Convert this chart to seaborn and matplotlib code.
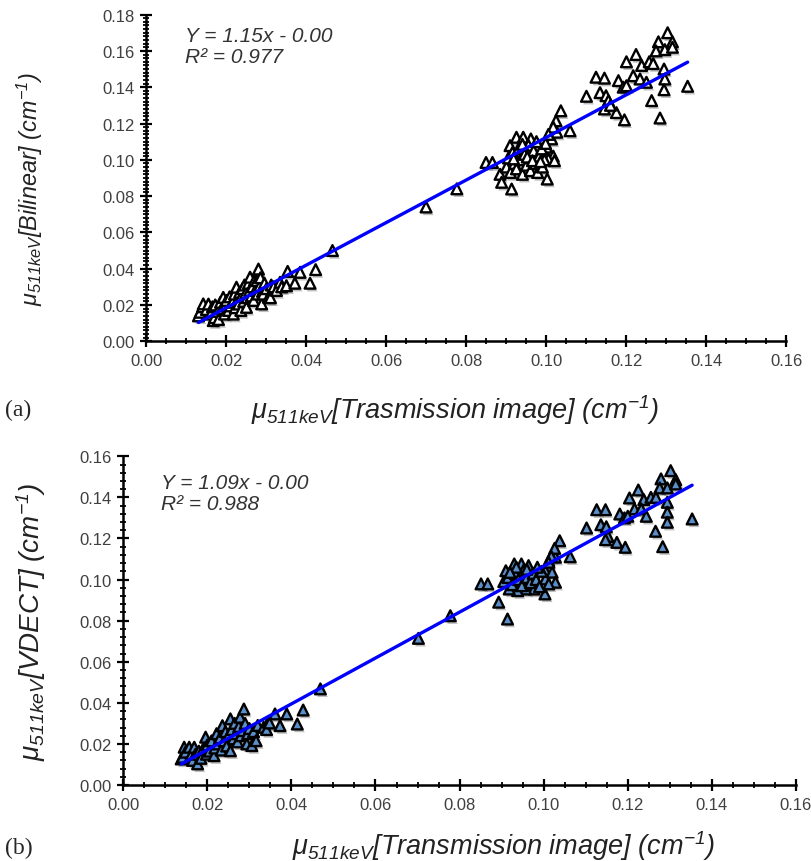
import numpy as np
import pandas as pd
import seaborn as sns
import matplotlib
matplotlib.use("Agg")
import matplotlib.pyplot as plt
from matplotlib.ticker import MultipleLocator, FormatStrFormatter
import matplotlib.patheffects as pe

# ---------------- data ----------------
# (a) Bilinear vs transmission image
x_a = [0.0130, 0.0134, 0.0140, 0.0142, 0.0150, 0.0155, 0.0160, 0.0165, 0.0167, 0.0170,
       0.0172, 0.0178, 0.0180, 0.0185, 0.0188, 0.0192, 0.0195, 0.0198, 0.0200, 0.0205,
       0.0208, 0.0210, 0.0215, 0.0217, 0.0220, 0.0222, 0.0225, 0.0228, 0.0230, 0.0233,
       0.0236, 0.0238, 0.0240, 0.0243, 0.0245, 0.0248, 0.0250, 0.0252, 0.0255, 0.0258,
       0.0259, 0.0262, 0.0265, 0.0268, 0.0270, 0.0272, 0.0276, 0.0278, 0.0280, 0.0282,
       0.0285, 0.0288, 0.0290, 0.0292, 0.0295, 0.0300, 0.0305, 0.0310, 0.0312, 0.0318,
       0.0325, 0.0334, 0.0338, 0.0350, 0.0353, 0.0371, 0.0384, 0.0409, 0.0423, 0.0465,
       0.0699, 0.0776,
       0.0849, 0.0865, 0.0884, 0.0888, 0.0909, 0.0913, 0.0925, 0.0942, 0.0961, 0.1002,
       0.1000, 0.1013, 0.1026, 0.1059, 0.1024, 0.1036, 0.1017, 0.1005, 0.1017, 0.1005,
       0.1020,
       0.0900, 0.0905, 0.0910, 0.0915, 0.0920, 0.0925, 0.0930, 0.0935, 0.0940, 0.0945,
       0.0950, 0.0955, 0.0960, 0.0962, 0.0968, 0.0972, 0.0978, 0.0982, 0.0988, 0.0990,
       0.0995, 0.0998, 0.0940, 0.0918, 0.0952, 0.0965, 0.0985, 0.0975,
       0.1303, 0.1280, 0.1315, 0.1274, 0.1296, 0.1315, 0.1224, 0.1200, 0.1238, 0.1257,
       0.1267, 0.1294, 0.1296, 0.1294, 0.1353, 0.1263, 0.1284, 0.1217, 0.1234, 0.1250,
       0.1180, 0.1192, 0.1200, 0.1124, 0.1145, 0.1100, 0.1134, 0.1149, 0.1155, 0.1145,
       0.1175, 0.1195, 0.1160]
y_a = [0.0140, 0.0160, 0.0190, 0.0206, 0.0175, 0.0205, 0.0150, 0.0190, 0.0114, 0.0130,
       0.0200, 0.0165, 0.0120, 0.0215, 0.0180, 0.0242, 0.0150, 0.0200, 0.0225, 0.0170,
       0.0245, 0.0195, 0.0215, 0.0150, 0.0260, 0.0185, 0.0298, 0.0230, 0.0205, 0.0270,
       0.0170, 0.0250, 0.0290, 0.0220, 0.0310, 0.0265, 0.0187, 0.0240, 0.0320, 0.0280,
       0.0353, 0.0250, 0.0300, 0.0225, 0.0335, 0.0280, 0.0334, 0.0260, 0.0398, 0.0300,
       0.0350, 0.0206, 0.0275, 0.0260, 0.0320, 0.0290, 0.0242, 0.0240, 0.0310, 0.0300,
       0.0280, 0.0325, 0.0300, 0.0306, 0.0385, 0.0320, 0.0380, 0.0320, 0.0395, 0.0500,
       0.0740, 0.0840,
       0.0985, 0.0985, 0.0920, 0.0876, 0.1078, 0.0839, 0.1124, 0.1124, 0.1115, 0.0894,
       0.1070, 0.1115, 0.1152, 0.1160, 0.1215, 0.1270, 0.1180, 0.1140, 0.1020, 0.1004,
       0.0995,
       0.0960, 0.1010, 0.0930, 0.1040, 0.0980, 0.0950, 0.1060, 0.1000, 0.0920, 0.1030,
       0.0970, 0.1080, 0.0940, 0.1010, 0.1050, 0.0980, 0.0930, 0.1020, 0.1060, 0.0960,
       0.1000, 0.1090, 0.1085, 0.1005, 0.1015, 0.0995, 0.0990, 0.1100,
       0.1700, 0.1650, 0.1650, 0.1600, 0.1607, 0.1620, 0.1580, 0.1540, 0.1520, 0.1540,
       0.1530, 0.1500, 0.1445, 0.1386, 0.1405, 0.1326, 0.1230, 0.1463, 0.1445, 0.1427,
       0.1436, 0.1400, 0.1408, 0.1455, 0.1450, 0.1350, 0.1370, 0.1353, 0.1326, 0.1280,
       0.1260, 0.1220, 0.1300]

# (b) VDECT vs transmission image
x_b = [0.0138, 0.0141, 0.0145, 0.0148, 0.0157, 0.0160, 0.0165, 0.0169, 0.0172, 0.0177,
       0.0180, 0.0185, 0.0190, 0.0196, 0.0198, 0.0200, 0.0205, 0.0210, 0.0216, 0.0218,
       0.0222, 0.0225, 0.0230, 0.0233, 0.0236, 0.0240, 0.0243, 0.0246, 0.0250, 0.0255,
       0.0255, 0.0258, 0.0262, 0.0265, 0.0268, 0.0272, 0.0275, 0.0278, 0.0280, 0.0284,
       0.0287, 0.0290, 0.0294, 0.0296, 0.0300, 0.0306, 0.0310, 0.0316, 0.0320, 0.0334,
       0.0341, 0.0345, 0.0348, 0.0361, 0.0373, 0.0389, 0.0414, 0.0428, 0.0469,
       0.0702, 0.0778,
       0.0851, 0.0867, 0.0893, 0.0914, 0.1003, 0.0930, 0.0947, 0.0964, 0.0910, 0.1012,
       0.1028, 0.1004, 0.1020, 0.1004, 0.1028, 0.1012, 0.0977, 0.0957, 0.0938, 0.0918,
       0.0905, 0.0915, 0.0925, 0.0932, 0.0940, 0.0948, 0.0952, 0.0960, 0.0968, 0.0975,
       0.0982, 0.0990, 0.0995, 0.0985, 0.0960, 0.0935, 0.0920,
       0.1038, 0.1026, 0.1063, 0.1018, 0.1012,
       0.1302, 0.1279, 0.1314, 0.1276, 0.1294, 0.1314, 0.1225, 0.1204, 0.1238, 0.1255,
       0.1267, 0.1294, 0.1294, 0.1294, 0.1353, 0.1266, 0.1283, 0.1216, 0.1232, 0.1244,
       0.1181, 0.1192, 0.1200, 0.1126, 0.1147, 0.1102, 0.1136, 0.1149, 0.1153, 0.1147,
       0.1174, 0.1194]
y_b = [0.0127, 0.0135, 0.0184, 0.0160, 0.0184, 0.0140, 0.0120, 0.0184, 0.0150, 0.0103,
       0.0165, 0.0130, 0.0175, 0.0233, 0.0150, 0.0195, 0.0165, 0.0215, 0.0143, 0.0180,
       0.0250, 0.0200, 0.0230, 0.0170, 0.0289, 0.0215, 0.0260, 0.0190, 0.0240, 0.0322,
       0.0167, 0.0270, 0.0225, 0.0300, 0.0250, 0.0210, 0.0285, 0.0330, 0.0240, 0.0265,
       0.0370, 0.0300, 0.0200, 0.0250, 0.0275, 0.0192, 0.0260, 0.0216, 0.0290, 0.0281,
       0.0270, 0.0306, 0.0302, 0.0346, 0.0289, 0.0346, 0.0297, 0.0365, 0.0468,
       0.0714, 0.0824,
       0.0979, 0.0979, 0.0890, 0.0808, 0.0930, 0.1076, 0.1076, 0.1068, 0.1043, 0.1092,
       0.1109, 0.1043, 0.1036, 0.1003, 0.0987, 0.0979, 0.0954, 0.0954, 0.0946, 0.0954,
       0.0990, 0.1010, 0.0975, 0.1030, 0.1000, 0.0970, 0.1045, 0.1010, 0.0985, 0.1030,
       0.1000, 0.0965, 0.1040, 0.1060, 0.1050, 0.1060, 0.1035,
       0.1189, 0.1152, 0.1111, 0.1113, 0.1084,
       0.1530, 0.1490, 0.1486, 0.1446, 0.1446, 0.1465, 0.1436, 0.1397, 0.1389, 0.1400,
       0.1400, 0.1376, 0.1328, 0.1279, 0.1295, 0.1235, 0.1160, 0.1344, 0.1344, 0.1308,
       0.1319, 0.1300, 0.1308, 0.1340, 0.1340, 0.1251, 0.1267, 0.1257, 0.1210, 0.1194,
       0.1181, 0.1157]

eq_a = ["Y = 1.15x - 0.00", "R² = 0.977"]
eq_b = ["Y = 1.09x - 0.00", "R² = 0.988"]
xlabel_a = r"$\mu_{511keV}$[Trasmission image] (cm$^{-1}$)"
xlabel_b = r"$\mu_{511keV}$[Transmission image] (cm$^{-1}$)"
ylabel_a = r"$\mu_{511keV}$[Bilinear] (cm$^{-1}$)"
ylabel_b = r"$\mu_{511keV}$[VDECT] (cm$^{-1}$)"
panel_tags = ["(a)", "(b)"]

# ---------------- style ----------------
sns.set_theme(style="white")
plt.rcParams["font.family"] = ["Liberation Sans", "DejaVu Sans"]
plt.rcParams["mathtext.fontset"] = "custom"
plt.rcParams["mathtext.it"] = "Liberation Sans:italic"
plt.rcParams["mathtext.rm"] = "Liberation Sans:italic"

fig = plt.figure(figsize=(8.11, 8.62), dpi=100)
ax_a = fig.add_axes([0.1806, 0.6029, 0.7891, 0.3790])
ax_b = fig.add_axes([0.1519, 0.0881, 0.8296, 0.3814])

shadow = [pe.SimplePatchShadow(offset=(1.5, -2.0), shadow_rgbFace="0.45", alpha=0.45), pe.Normal()]

# ax, x, y, fill, ymax, yminor, eq, xlabel, ylabel, eq position,
# label sizes, xlabel coords, ylabel coords
panels = [
    (ax_a, x_a, y_a, "white", 0.18, 0.002, eq_a, xlabel_a, ylabel_a, (0.0096, 0.1627),
     (19.5, 16.8), (0.482, -0.207), (-0.182, 0.47)),
    (ax_b, x_b, y_b, "#5b8fc9", 0.16, 0.004, eq_b, xlabel_b, ylabel_b, (0.0091, 0.142),
     (19.5, 20), (0.565, -0.183), (-0.137, 0.50)),
]

for ax, xs, ys, fc, ymax, yminor, eq, xl, yl, eqpos, lsz, xlc, ylc in panels:
    df = pd.DataFrame({"x": xs, "y": ys})
    sc = ax.scatter(df["x"], df["y"], marker="^", s=60, facecolor=fc,
                    edgecolor="black", linewidth=1.7, zorder=3)
    sc.set_path_effects(shadow)
    sns.regplot(data=df, x="x", y="y", ax=ax, scatter=False, ci=None, truncate=True,
                line_kws=dict(color="#0000ff", lw=2.4, zorder=4))
    ax.set_xlim(0, 0.16)
    ax.set_ylim(0, ymax)
    ax.xaxis.set_major_locator(MultipleLocator(0.02))
    ax.xaxis.set_minor_locator(MultipleLocator(0.005))
    ax.yaxis.set_major_locator(MultipleLocator(0.02))
    ax.yaxis.set_minor_locator(MultipleLocator(yminor))
    ax.xaxis.set_major_formatter(FormatStrFormatter("%.2f"))
    ax.yaxis.set_major_formatter(FormatStrFormatter("%.2f"))
    for s in ["top", "right"]:
        ax.spines[s].set_visible(False)
    for s in ["left", "bottom"]:
        ax.spines[s].set_color("black")
        ax.spines[s].set_linewidth(1.8)
    ax.tick_params(which="major", direction="inout", length=9, width=1.6,
                   color="black", labelsize=12, labelcolor="#404040", pad=4)
    ax.tick_params(which="minor", direction="inout", length=5, width=1.3, color="black")
    ax.tick_params(axis="x", which="both", bottom=True)
    ax.tick_params(axis="y", which="both", left=True)
    ax.set_xlabel(xl, fontsize=lsz[0], fontstyle="italic", color="#222222")
    ax.set_ylabel(yl, fontsize=lsz[1], fontstyle="italic", color="#222222")
    ax.xaxis.set_label_coords(*xlc)
    ax.xaxis.label.set_va("center")
    ax.yaxis.set_label_coords(*ylc)
    ax.yaxis.label.set_va("center")
    ax.text(eqpos[0], eqpos[1], "\n".join(eq), fontsize=15, fontstyle="italic",
            color="#333333", va="center", ha="left", linespacing=1.15)

fig.text(0.006, 0.524, panel_tags[0], fontsize=17, family="Liberation Serif",
         va="center", ha="left")
fig.text(0.006, 0.016, panel_tags[1], fontsize=17, family="Liberation Serif",
         va="center", ha="left")

fig.savefig("out.png", dpi=100)
